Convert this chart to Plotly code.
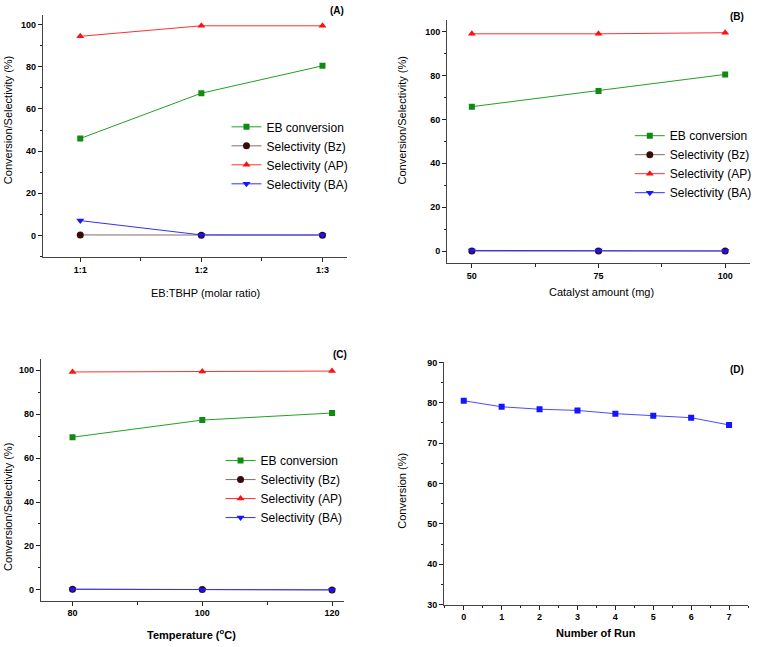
import plotly.graph_objects as go

W, H = 757, 647

# ---- data ----
ratios = ["1:1", "1:2", "1:3"]
a_eb = [46.0, 67.5, 80.5]
a_bz = [0.2, 0.1, 0.1]
a_ap = [94.5, 99.5, 99.5]
a_ba = [7.0, 0.2, 0.2]

catalyst = [50, 75, 100]
b_eb = [65.8, 73.0, 80.5]
b_bz = [0.0, 0.0, 0.0]
b_ap = [99.0, 99.0, 99.5]
b_ba = [0.3, 0.3, 0.1]

temps = [80, 100, 120]
c_eb = [69.5, 77.3, 80.5]
c_bz = [0.3, 0.2, 0.0]
c_ap = [99.2, 99.4, 99.6]
c_ba = [0.3, 0.1, 0.0]

runs = [0, 1, 2, 3, 4, 5, 6, 7]
d_conv = [80.5, 79.0, 78.4, 78.1, 77.3, 76.8, 76.3, 74.5]

names = ["EB conversion", "Selectivity (Bz)", "Selectivity (AP)", "Selectivity (BA)"]
colors = ["#118a11", "#3a0a0a", "#ff1010", "#1515ff"]
linecolors = ["#22a022", "#8a6a6a", "#ff3030", "#3030ff"]
symbols = ["square", "circle", "triangle-up", "triangle-down"]

FONT = "Liberation Sans, Arial, sans-serif"

def px_x(p):
    return p / W

def px_y(p):
    return 1 - p / H

fig = go.Figure()

panels = [
    ("x", "y", "legend", list(range(len(ratios))), [a_eb, a_bz, a_ap, a_ba]),
    ("x2", "y2", "legend2", catalyst, [b_eb, b_bz, b_ap, b_ba]),
    ("x3", "y3", "legend3", temps, [c_eb, c_bz, c_ap, c_ba]),
]
for xa, ya, lg, xs, series in panels:
    for i, ys in enumerate(series):
        fig.add_trace(go.Scatter(
            x=xs, y=ys, mode="lines+markers", name=names[i],
            xaxis=xa, yaxis=ya, legend=lg,
            line=dict(color=linecolors[i], width=1),
            marker=dict(symbol=symbols[i], color=colors[i], size=7 if i != 0 else 6,
                        line=dict(width=0)),
        ))

fig.add_trace(go.Scatter(
    x=runs, y=d_conv, mode="lines+markers", name="Conversion",
    xaxis="x4", yaxis="y4", showlegend=False,
    line=dict(color="#4a4aff", width=1),
    marker=dict(symbol="square", color="#1515ff", size=6),
))

tickfont = dict(family=FONT, size=9, color="black", weight="bold")
common = dict(showline=True, linecolor="#444444", linewidth=1, mirror=False,
              ticks="outside", ticklen=4, tickcolor="#222222", showgrid=False,
              zeroline=False, tickfont=tickfont)

def minor(d):
    return dict(dtick=d, ticks="outside", ticklen=2, tickcolor="#222222", showgrid=False)

def minor_vals(v):
    return dict(tickvals=v, ticks="outside", ticklen=3, tickcolor="#222222", showgrid=False)

fig.update_layout(
    width=W, height=H, margin=dict(l=0, r=0, t=0, b=0),
    paper_bgcolor="white", plot_bgcolor="white", showlegend=True,
    xaxis=dict(domain=[px_x(43), px_x(349)], anchor="y", range=[-0.31, 2.2],
               tickvals=list(range(len(ratios))), ticktext=ratios,
               minor=minor_vals([0.5, 1.5]), **common),
    yaxis=dict(domain=[px_y(256), px_y(10)], anchor="x", range=[-10.3, 104.7],
               dtick=20, minor=minor(10), **common),
    xaxis2=dict(domain=[px_x(450), px_x(755)], anchor="y2", range=[45.1, 104.9],
                tickvals=catalyst, minor=minor_vals([62.5, 87.5]), **common),
    yaxis2=dict(domain=[px_y(262), px_y(15)], anchor="x2", range=[-5.4, 105.4],
                dtick=20, minor=minor(10), **common),
    xaxis3=dict(domain=[px_x(41), px_x(346)], anchor="y3", range=[75.1, 121.8],
                tickvals=temps, minor=minor_vals([90, 110]), **common),
    yaxis3=dict(domain=[px_y(605), px_y(360)], anchor="x3", range=[-4.9, 104.9],
                dtick=20, minor=minor(10), **common),
    xaxis4=dict(domain=[px_x(447), px_x(753)], anchor="y4", range=[-0.52, 7.5],
                dtick=1, minor=minor(0.5), **common),
    yaxis4=dict(domain=[px_y(609), px_y(363)], anchor="x4", range=[30, 90],
                dtick=10, minor=minor(5), **common),
)

legfont = dict(family=FONT, size=12, color="black")
def leg(xp, yp):
    return dict(x=px_x(xp), y=px_y(yp), xanchor="left", yanchor="top",
                bgcolor="rgba(0,0,0,0)", font=legfont, tracegroupgap=0,
                itemwidth=30)
fig.update_layout(legend=leg(228, 109), legend2=leg(634, 118), legend3=leg(222, 448))

ann = []
def text(x, y, s, size=11, angle=0, bold=False):
    ann.append(dict(x=px_x(x), y=px_y(y), xref="paper", yref="paper", text=s,
                    showarrow=False, textangle=angle,
                    font=dict(family=FONT, size=size, color="black",
                              weight="bold" if bold else "normal"),
                    xanchor="center", yanchor="middle"))

text(207, 293, "EB:TBHP (molar ratio)")
text(8, 117, "Conversion/Selectivity (%)", angle=-90)
text(339, 6, "(A)", size=10, bold=True)
text(605, 292, "Catalyst amount (mg)")
text(405, 117, "Conversion/Selectivity (%)", angle=-90)
text(742, 12, "(B)", size=10, bold=True)
text(193, 639, "Temperature (<sup>o</sup>C)", bold=True)
text(8, 510, "Conversion/Selectivity (%)", angle=-90)
text(342, 355, "(C)", size=10, bold=True)
text(600, 638, "Number of Run", bold=True)
text(405, 493, "Conversion (%)", angle=-90)
text(742, 370, "(D)", size=10, bold=True)
fig.update_layout(annotations=ann)

fig.write_html("out.html", config={"displayModeBar": False},
               post_script="document.body.style.margin='0';document.body.style.overflow='hidden';")
